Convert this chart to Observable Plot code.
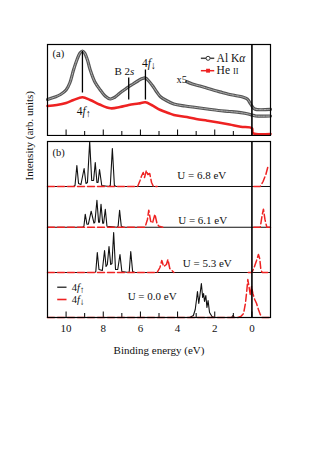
<!DOCTYPE html>
<html><head><meta charset="utf-8">
<script src="https://cdn.jsdelivr.net/npm/d3@7"></script>
<script src="https://cdn.jsdelivr.net/npm/@observablehq/plot@0.6"></script>
<style>
body{margin:0;background:#fff;}
#wrap{position:relative;width:317px;height:454px;background:#fff;}
#wrap svg{position:absolute;left:0;top:0;}
</style></head><body><div id="wrap"></div>
<script>
// ---------- shared ----------
const xDomain = [11, -1];
const tickValues = [10, 9, 8, 7, 6, 5, 4, 3, 2, 1, 0];
const tickLabels = [10, 8, 6, 4, 2, 0];
const xTitle = "Binding energy (eV)";
const yTitle = "Intensity (arb. units)";
const RED = "#ee2222";
const FONT = "Liberation Serif, Times New Roman, serif";

// ---------- panel (a): photoemission spectra [E, intensity] ----------
const alKa = [[11.0,36],[10.6,38.5],[10.3,41],[10.0,45.5],[9.8,52.5],[9.6,65.5],[9.4,76.5],[9.25,82.5],[9.12,84.5],[9.0,82.5],[8.85,75.5],[8.7,65.5],[8.45,53.5],[8.16,45.5],[7.9,39.5],[7.62,36.5],[7.4,38],[7.1,42.5],[6.8,46.5],[6.63,48.8],[6.4,51.5],[6.1,55],[5.9,57],[5.73,57.5],[5.55,54.5],[5.3,48.5],[5.1,43],[4.92,38.8],[4.6,35],[4.2,31.5],[3.6,29.5],[3.0,28],[2.4,26.5],[1.8,25],[1.2,24],[0.6,22.8],[0.2,21.5],[0.0,20.5],[-0.2,19.5],[-1.0,19.5]];
const alKaX5 = [[3.5,53.8],[3.2,51.5],[2.8,49.5],[2.4,47.2],[2.0,45],[1.6,43],[1.3,41.5],[0.9,40],[0.5,38.5],[0.25,36.5],[0.1,32.5],[0.0,29.5],[-0.15,26.5],[-1.0,26.2]];
const heII = [[11,29.5],[10.5,30.5],[10.0,32.5],[9.6,35.5],[9.12,38.2],[8.7,35.5],[8.2,31],[7.6,27.2],[7.1,28.5],[6.63,30.5],[6.1,32],[5.73,33.2],[5.4,30.5],[4.92,25.5],[4.5,22.5],[4.2,20.5],[3.5,18.5],[3.0,16.5],[2.4,14.8],[1.8,13],[1.2,11],[0.6,8.8],[0.0,7.2],[-0.05,2.5],[-1.0,1.5]];
const markE = [9.12, 6.63, 5.73];
const markLo = [42.5, 35.5, 35.5];
const markHi = [84, 57.5, 65.5];
const legendA = ["Al Kα", "He II"];
const legendAy = [77.2, 64.8];

// ---------- panel (b): calculated 4f DOS [E, height above baseline] ----------
const uLabels = ["U = 6.8 eV", "U = 6.1 eV", "U = 5.3 eV", "U = 0.0 eV"];
const baselines = [131, 90.3, 45, 0];
const uLabelE = [2.7, 2.65, 2.4, 5.37];
const uLabelY = [142, 97, 54.3, 21];

const up68 = [[11,0],[9.6,0],[9.52,1],[9.42,21],[9.33,3],[9.2,2],[9.03,18],[8.93,3],[8.85,4],[8.73,45],[8.62,6],[8.52,6],[8.43,24],[8.34,4],[8.28,4],[8.2,17],[8.08,1],[7.7,0],[7.62,1],[7.51,38],[7.4,1],[7.3,0],[-1,0]];
const dn68 = [[11,0],[6.15,0],[6.02,6],[5.95,10],[5.85,14],[5.78,9],[5.68,16],[5.6,12],[5.5,13],[5.4,4],[5.3,0],[5.1,0],[null,null],[-0.1,0],[-0.45,0],[-0.6,5],[-0.75,12],[-0.85,19],[-1,20]];
const up61 = [[11,0],[9.1,0],[9.04,1],[8.97,13],[8.88,3],[8.8,3],[8.65,16],[8.5,4],[8.45,5],[8.34,27],[8.25,5],[8.2,5],[8.12,23],[8.03,4],[7.98,4],[7.89,18],[7.8,1],[7.25,0],[7.2,1],[7.12,17],[7.03,1],[6.9,0],[-1,0]];
const dn61 = [[11,0],[5.75,0],[5.62,8],[5.55,17],[5.45,6],[5.35,4],[5.22,13],[5.1,3],[5.0,1],[4.8,0],[null,null],[-0.1,0],[-0.45,0],[-0.55,12],[-0.62,18],[-0.7,8],[-0.8,0],[-1,0]];
const up53 = [[11,0],[8.45,0],[8.4,1],[8.32,20],[8.23,3],[8.05,2],[7.93,22],[7.85,6],[7.78,8],[7.69,26],[7.6,8],[7.53,9],[7.44,40],[7.34,3],[7.22,3],[7.1,18],[7.0,1],[6.65,0],[6.6,1],[6.52,21],[6.42,1],[6.3,0],[-1,0]];
const dn53 = [[11,0],[5.1,0],[4.95,5],[4.85,12],[4.75,6],[4.6,8],[4.52,13],[4.42,4],[4.3,2],[4.2,0],[null,null],[0.2,0],[0,0],[-0.1,4],[-0.25,12],[-0.35,18],[-0.42,14],[-0.48,3],[-0.55,0],[-1,0]];
const up00 = [[11,0],[3.35,0],[3.15,2],[3.05,8],[2.98,18],[2.93,26],[2.86,14],[2.8,22],[2.72,34],[2.65,20],[2.6,24],[2.55,16],[2.48,22],[2.42,10],[2.36,17],[2.28,5],[2.15,1],[2.0,0],[1.1,0],[1.02,2],[0.94,0],[-1,0]];
const dn00 = [[11,0],[0.75,0],[0.6,1],[0.45,4],[0.35,14],[0.28,26],[0.22,38],[0.15,30],[0.08,22],[0.02,31],[-0.05,24],[-0.15,18],[-0.25,14],[-0.35,8],[-0.45,3],[-0.55,0],[-1,0]];
const legendB = ["4f↑", "4f↓"];
const legendBy = [30.3, 18];

// ---------- build tables ----------
const pts = a => a.map(([E, y]) => ({E, y}));
function shifted(list) {
  const out = [];
  list.forEach((arr, i) => arr.forEach(([E, h]) => out.push({
    E: E, y: (E === null ? null : h + baselines[i]), s: i
  })));
  return out;
}
const upTable = shifted([up68, up61, up53, up00]);
const dnTable = shifted([dn68, dn61, dn53, dn00]);
const marksA = markE.map((E, i) => ({E, lo: markLo[i], hi: markHi[i]}));
const legA = legendA.map((t, i) => ({t, y: legendAy[i]}));
const legB = legendB.map((t, i) => ({t, y: legendBy[i]}));
const uTab = uLabels.map((t, i) => ({t, E: uLabelE[i], y: uLabelY[i]}));
const tickLen = d => (d % 2 === 0 ? 5.5 : 4);

// ---------- panel (b) (full-size svg, underneath) ----------
const plotB = Plot.plot({
  width: 317, height: 454, marginTop: 141, marginBottom: 137, marginLeft: 47, marginRight: 47,
  x: {domain: xDomain},
  y: {domain: [0, 176], axis: null},
  style: {fontFamily: FONT, background: "transparent", color: "#111"},
  marks: [
    Plot.ruleX(tickValues, {x: d => d, y1: 0, y2: tickLen, stroke: "#000", strokeWidth: 1}),
    Plot.line(upTable, {x: "E", y: "y", z: "s", stroke: "#111", strokeWidth: 1.1}),
    Plot.line(dnTable, {x: "E", y: "y", z: "s", stroke: RED, strokeWidth: 1.5, strokeDasharray: "7,3"}),
    Plot.ruleX([0], {stroke: "#000", strokeWidth: 1.6}),
    Plot.frame({stroke: "#000", strokeWidth: 1.2}),
    Plot.text(uTab, {x: "E", y: "y", text: "t", fontSize: 11, fill: "#111"}),
    Plot.text(["(b)"], {x: 10.73, y: 165.3, text: d => d, textAnchor: "start", fontSize: 10.5}),
    Plot.ruleY(legB.slice(0, 1), {y: "y", x1: 10.45, x2: 9.95, stroke: "#111", strokeWidth: 1.2}),
    Plot.ruleY(legB.slice(1), {y: "y", x1: 10.45, x2: 9.95, stroke: RED, strokeWidth: 1.6}),
    Plot.text(legB, {x: 9.7, y: "y", text: "t", textAnchor: "start", fontSize: 10.5}),
    Plot.axisX({ticks: tickLabels, tickSize: 0, tickPadding: 7, fontSize: 11, label: null, tickFormat: d => String(d)}),
    Plot.text([xTitle], {frameAnchor: "bottom", dy: 32.5, text: d => d, fontSize: 11, lineAnchor: "middle"}),
    Plot.text([yTitle], {frameAnchor: "left", dx: -18, dy: -49, rotate: -90, text: d => d, fontSize: 11, lineAnchor: "middle"})
  ]
});

// ---------- panel (a) (overlay) ----------
const plotA = Plot.plot({
  width: 317, height: 136, marginTop: 44, marginBottom: 1, marginLeft: 47, marginRight: 47,
  x: {domain: xDomain, axis: null},
  y: {domain: [0, 91], axis: null},
  style: {fontFamily: FONT, background: "transparent", color: "#111"},
  marks: [
    Plot.ruleX(tickValues, {x: d => d, y1: 0, y2: tickLen, stroke: "#000", strokeWidth: 1}),
    Plot.line(pts(heII), {x: "E", y: "y", stroke: RED, strokeWidth: 2.6, curve: "catmull-rom"}),
    Plot.line(pts(alKa), {x: "E", y: "y", stroke: "#555", strokeWidth: 3.2, curve: "catmull-rom"}),
    Plot.line(pts(alKa), {x: "E", y: "y", stroke: "#b8b8b8", strokeWidth: 1, strokeDasharray: "1.5,1", curve: "catmull-rom"}),
    Plot.line(pts(alKaX5), {x: "E", y: "y", stroke: "#555", strokeWidth: 3.2, curve: "catmull-rom"}),
    Plot.line(pts(alKaX5), {x: "E", y: "y", stroke: "#b8b8b8", strokeWidth: 1, strokeDasharray: "1.5,1", curve: "catmull-rom"}),
    Plot.ruleX(marksA, {x: "E", y1: "lo", y2: "hi", stroke: "#000", strokeWidth: 1.3}),
    Plot.ruleX([0], {stroke: "#000", strokeWidth: 1.6}),
    Plot.frame({stroke: "#000", strokeWidth: 1.2}),
    Plot.text(["(a)"], {x: 10.73, y: 81.5, text: d => d, textAnchor: "start", fontSize: 10.5}),
    Plot.text(["B 2s"], {x: 6.86, y: 63.8, text: d => d, fontSize: 11}),
    Plot.text(["4f↓"], {x: 5.54, y: 72.5, text: d => d, fontSize: 11.5}),
    Plot.text(["4f↑"], {x: 9.05, y: 24.5, text: d => d, fontSize: 11.5}),
    Plot.text(["x5"], {x: 3.78, y: 55.5, text: d => d, fontSize: 10.5}),
    Plot.ruleY(legA.slice(0, 1), {y: "y", x1: 2.72, x2: 2.0, stroke: "#444", strokeWidth: 1.5}),
    Plot.dot(legA.slice(0, 1), {x: 2.36, y: "y", r: 2, stroke: "#333", fill: "#fff", strokeWidth: 1}),
    Plot.ruleY(legA.slice(1), {y: "y", x1: 2.72, x2: 2.0, stroke: RED, strokeWidth: 1.5}),
    Plot.dot(legA.slice(1), {x: 2.36, y: "y", r: 2.2, symbol: "square", fill: RED}),
    Plot.text(legA, {x: 1.9, y: "y", text: "t", textAnchor: "start", fontSize: 11.5})
  ]
});

// rich text (italics / subscript arrows)
function rich(svg) {
  svg.querySelectorAll("text").forEach(t => {
    const s = t.textContent;
    if (s === "4f↑" || s === "4f↓") {
      t.innerHTML = '4<tspan font-style="italic">f</tspan><tspan font-size="0.9em" dy="0.25em">' + s[2] + '</tspan>';
    } else if (s === "B 2s") {
      t.innerHTML = 'B 2<tspan font-style="italic">s</tspan>';
    } else if (s === "Al Kα") {
      t.innerHTML = 'Al K<tspan font-style="italic">α</tspan>';
    } else if (s === "He II") {
      t.innerHTML = 'He <tspan font-size="0.72em">II</tspan>';
    }
  });
}
rich(plotA); rich(plotB);
const wrap = document.getElementById("wrap");
wrap.appendChild(plotB);
wrap.appendChild(plotA);
</script></body></html>
